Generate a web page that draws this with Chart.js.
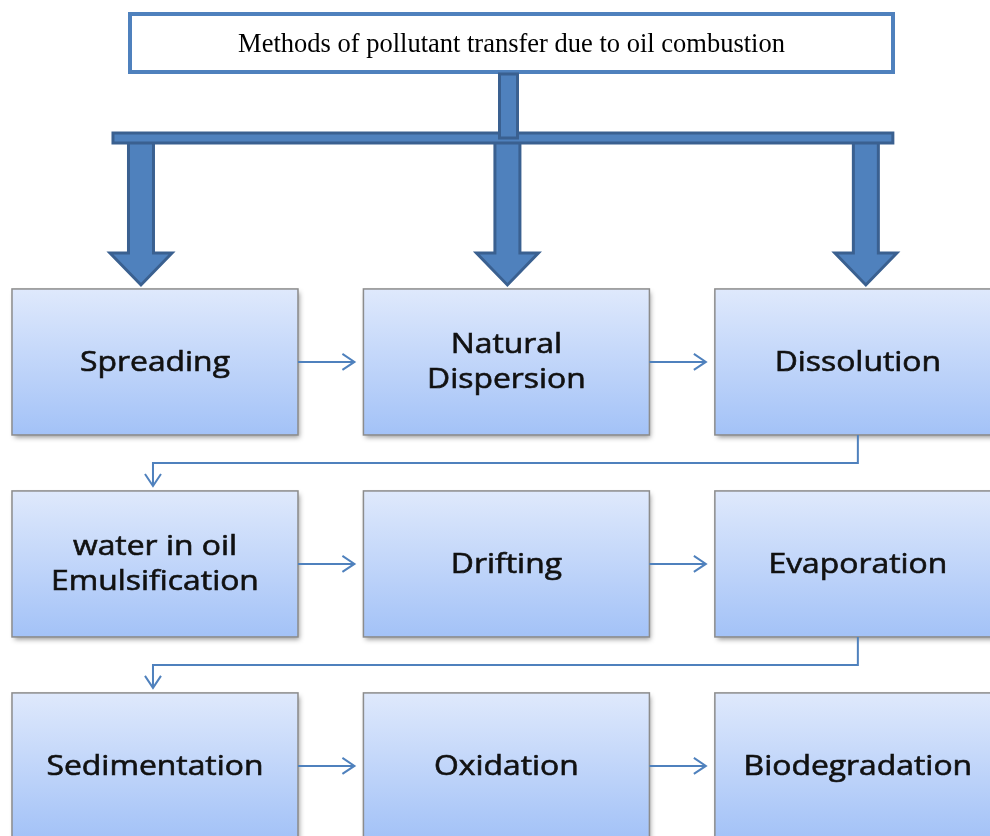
<!DOCTYPE html>
<html>
<head>
<meta charset="utf-8">
<script src="https://cdn.jsdelivr.net/npm/chart.js@4.4.0/dist/chart.umd.min.js"></script>
<style>
  html, body { margin: 0; padding: 0; background: #fff; }
  #wrap { width: 990px; height: 836px; }
</style>
</head>
<body>
<div id="wrap"><canvas id="flowChart"></canvas></div>
<script>
// Data
const titleText = 'Methods of pollutant transfer due to oil combustion';
const stepLabels = [
    ['Spreading'], ['Natural', 'Dispersion'], ['Dissolution'],
    ['water in oil', 'Emulsification'], ['Drifting'], ['Evaporation'],
    ['Sedimentation'], ['Oxidation'], ['Biodegradation']
];
const stepCols = [0, 1, 2, 0, 1, 2, 0, 1, 2];
const stepRows = [0, 0, 0, 1, 1, 1, 2, 2, 2];
const branchTargets = [0, 1, 2]; // steps fed straight from the title

// Colours
const BLUE = '#4f81bd';
const BLUE_DARK = '#3a6090';

function chevron(ctx, x, y, dir) {
    // open arrow head pointing right ('r') or down ('d')
    ctx.beginPath();
    if (dir === 'r') {
        ctx.moveTo(x - 12, y - 8); ctx.lineTo(x, y); ctx.lineTo(x - 12, y + 8);
    } else {
        ctx.moveTo(x - 8, y - 12); ctx.lineTo(x, y); ctx.lineTo(x + 8, y - 12);
    }
    ctx.stroke();
}

const flowPlugin = {
    id: 'flow',
    afterDatasetsDraw(chart, args, opts) {
        const ctx = chart.ctx;
        const pts = chart.getDatasetMeta(0).data.map(p => ({ x: p.x, y: p.y }));
        const hw = opts.boxW / 2, hh = opts.boxH / 2;

        // boxes
        pts.forEach((p, i) => {
            const left = p.x - hw, top = p.y - hh;
            ctx.save();
            ctx.shadowColor = 'rgba(0,0,0,0.4)';
            ctx.shadowBlur = 5;
            ctx.shadowOffsetX = 2;
            ctx.shadowOffsetY = 3;
            const g = ctx.createLinearGradient(0, top, 0, top + opts.boxH);
            g.addColorStop(0, '#dfe9fc');
            g.addColorStop(1, '#a3c2f7');
            ctx.fillStyle = g;
            ctx.fillRect(left, top, opts.boxW, opts.boxH);
            ctx.restore();
            ctx.strokeStyle = '#8c8c8c';
            ctx.lineWidth = 1.5;
            ctx.strokeRect(left, top, opts.boxW, opts.boxH);

            const lines = stepLabels[i];
            ctx.save();
            ctx.fillStyle = '#111';
            ctx.strokeStyle = '#111';
            ctx.lineWidth = 0.6;
            ctx.font = opts.boxFont;
            ctx.textAlign = 'center';
            ctx.textBaseline = 'middle';
            ctx.translate(p.x, p.y);
            ctx.scale(opts.textStretch, 1);
            lines.forEach((t, k) => {
                const dy = (k - (lines.length - 1) / 2) * opts.lineH + 1;
                ctx.fillText(t, 0, dy);
                ctx.strokeText(t, 0, dy);
            });
            ctx.restore();
        });

        // thin connectors between consecutive steps
        ctx.save();
        ctx.strokeStyle = BLUE;
        ctx.lineWidth = 2;
        for (let i = 0; i < pts.length - 1; i++) {
            const a = pts[i], b = pts[i + 1];
            if (stepRows[i] === stepRows[i + 1]) {
                const x1 = a.x + hw, x2 = b.x - hw - 9;
                ctx.beginPath(); ctx.moveTo(x1, a.y); ctx.lineTo(x2, a.y); ctx.stroke();
                chevron(ctx, x2, a.y, 'r');
            } else {
                const y1 = a.y + hh, ym = y1 + 28, y2 = b.y - hh - 5;
                ctx.beginPath();
                ctx.moveTo(a.x, y1); ctx.lineTo(a.x, ym);
                ctx.lineTo(b.x - 2, ym); ctx.lineTo(b.x - 2, y2);
                ctx.stroke();
                chevron(ctx, b.x - 2, y2, 'd');
            }
        }
        ctx.restore();

        // title box
        const tl = 130, tr = 893, tt = 14, tb = 72;
        ctx.save();
        ctx.fillStyle = '#fff';
        ctx.fillRect(tl, tt, tr - tl, tb - tt);
        ctx.strokeStyle = BLUE;
        ctx.lineWidth = 4;
        ctx.strokeRect(tl, tt, tr - tl, tb - tt);
        ctx.fillStyle = '#000';
        ctx.font = opts.titleFont;
        ctx.textAlign = 'center';
        ctx.textBaseline = 'middle';
        ctx.fillText(titleText, (tl + tr) / 2, (tt + tb) / 2 + 2);
        ctx.restore();

        // thick block arrows from the title
        const barY = 138;
        const xs = branchTargets.map((s, k) => pts[s].x + opts.branchShift[k]);
        const tipY = pts[branchTargets[0]].y - hh - 4;
        ctx.save();
        ctx.fillStyle = BLUE;
        ctx.strokeStyle = BLUE_DARK;
        ctx.lineWidth = 3;
        ctx.lineJoin = 'miter';
        xs.forEach(x => {
            const sw = 12.5, hwid = 31, headTop = tipY - 32;
            ctx.beginPath();
            ctx.moveTo(x - sw, barY);
            ctx.lineTo(x - sw, headTop);
            ctx.lineTo(x - hwid, headTop);
            ctx.lineTo(x, tipY);
            ctx.lineTo(x + hwid, headTop);
            ctx.lineTo(x + sw, headTop);
            ctx.lineTo(x + sw, barY);
            ctx.closePath();
            ctx.fill(); ctx.stroke();
        });
        // horizontal bar
        ctx.beginPath();
        ctx.rect(xs[0] - 28, barY - 5, xs[xs.length - 1] - xs[0] + 55, 10);
        ctx.fill(); ctx.stroke();
        // stem from the title
        const sx = (tl + tr) / 2 - 3;
        ctx.beginPath();
        ctx.rect(sx - 9, tb + 2, 18, barY - tb - 2);
        ctx.fill(); ctx.stroke();
        ctx.restore();
    }
};

const ctx = document.getElementById('flowChart').getContext('2d');
new Chart(ctx, {
    type: 'scatter',
    data: {
        datasets: [{
            data: stepLabels.map((l, i) => ({ x: stepCols[i], y: stepRows[i] })),
            pointRadius: 0
        }]
    },
    options: {
        responsive: true,
        maintainAspectRatio: false,
        animation: false,
        events: [],
        layout: { padding: 0 },
        scales: {
            x: { type: 'linear', display: false, min: -0.441, max: 2.376 },
            y: { type: 'linear', display: false, reverse: true, min: -1.792, max: 2.347 }
        },
        plugins: {
            legend: { display: false },
            tooltip: { enabled: false },
            flow: {
                boxW: 286,
                boxH: 146,
                lineH: 35,
                textStretch: 1.18,
                boxFont: '27px "Open Sans", sans-serif',
                titleFont: '26.5px "Liberation Serif", "Times New Roman", serif',
                branchShift: [-14, 1, 8]
            }
        }
    },
    plugins: [flowPlugin]
});
</script>
</body>
</html>
